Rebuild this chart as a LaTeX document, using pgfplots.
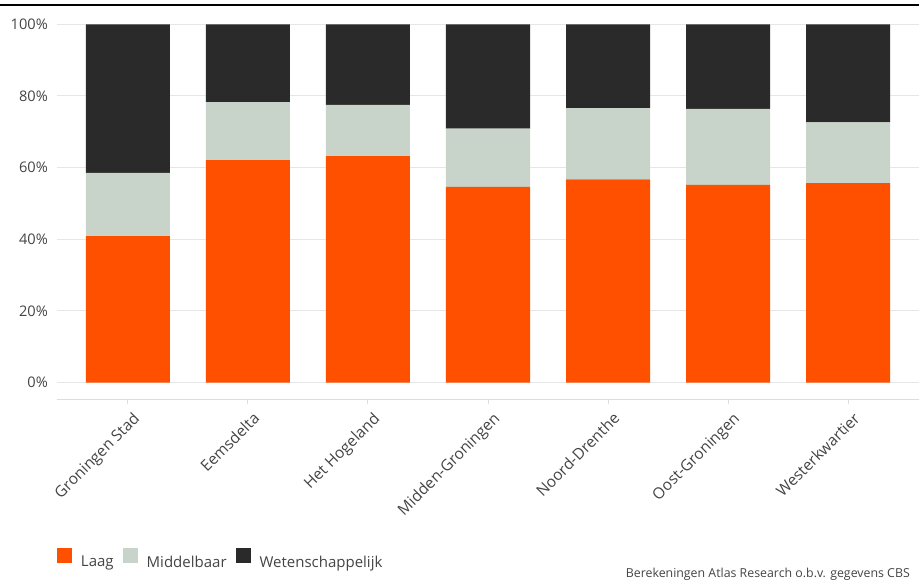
\documentclass[border=0pt]{standalone}
\usepackage{pgfplots}
\pgfplotsset{compat=1.18}
\usepackage{fontspec}
\setmainfont{Open Sans}
\definecolor{laag}{HTML}{FF5000}
\definecolor{midd}{HTML}{C8D3C9}
\definecolor{wet}{HTML}{2A2A2A}
\definecolor{txt}{HTML}{444444}
\definecolor{gridc}{HTML}{E6E6E6}
\definecolor{axc}{HTML}{DDDDDD}

\pgfplotstableread{
x laag midd wet
0 40.9 17.6 41.5
1 62.1 16.2 21.7
2 63.2 14.3 22.5
3 54.6 16.3 29.1
4 56.7 19.9 23.4
5 55.2 21.2 23.6
6 55.7 16.9 27.4
}\datatable

\begin{document}
\begin{tikzpicture}[x=1pt,y=1pt]
\useasboundingbox (0,0) rectangle (919,584);
\fill[black] (0,577.6) rectangle (919,580.2);
\begin{axis}[
  at={(57pt,184pt)}, anchor=south west,
  scale only axis, width=862pt, height=385pt,
  xmin=-0.59, xmax=6.59, ymin=-4.86, ymax=102.6,
  ybar stacked, bar width=0.7,
  xtick={0,...,6},
  xticklabels={Groningen Stad,Eemsdelta,Het Hogeland,Midden-Groningen,Noord-Drenthe,Oost-Groningen,Westerkwartier},
  ytick={0,20,...,100},
  yticklabel={\pgfmathprintnumber{\tick}\%},
  /pgf/number format/assume math mode=true,
  axis x line*=bottom, axis y line*=left,
  axis line style={-},
  x axis line style={draw=axc, line width=1pt},
  y axis line style={draw=none},
  tick align=outside, major tick length=4pt,
  xtick style={draw=axc, line width=1pt},
  ytick style={draw=none},
  ymajorgrids, major grid style={draw=gridc, line width=1pt},
  xticklabel style={rotate=45, anchor=north east, inner sep=0pt, xshift=-2pt, yshift=-8pt, font=\fontsize{15.5}{18}\selectfont, text=txt},
  yticklabel style={anchor=east, inner sep=0pt, xshift=-5pt, font=\fontsize{14.6}{17}\selectfont, text=txt},
  legend columns=3,
  legend style={at={(0,-0.3852)}, anchor=north west, draw=none, fill=none, inner sep=0pt, outer sep=0pt,
    font=\fontsize{15}{18}\selectfont, text=txt,
    nodes={inner sep=0pt},
    /tikz/every odd column/.append style={column sep=9pt},
    /tikz/every even column/.append style={column sep=9pt}},
]
\addplot+[fill=laag, draw=none, legend image code/.code={\fill[laag] (0pt,-1pt) rectangle (15pt,14pt);}] table[x=x, y=laag] {\datatable};
\addlegendentry{Laag}
\addplot+[fill=midd, draw=none, legend image code/.code={\fill[midd] (0pt,-1pt) rectangle (15pt,14pt);}] table[x=x, y=midd] {\datatable};
\addlegendentry{Middelbaar}
\addplot+[fill=wet, draw=none, legend image code/.code={\fill[wet] (0pt,-1pt) rectangle (15pt,14pt);}] table[x=x, y=wet] {\datatable};
\addlegendentry{Wetenschappelijk}
\end{axis}
\node[anchor=base east, inner sep=0pt, font=\fontsize{12.35}{15}\selectfont, text=txt] at (910,6.7) {Berekeningen Atlas Research o.b.v. gegevens CBS};
\end{tikzpicture}
\end{document}
